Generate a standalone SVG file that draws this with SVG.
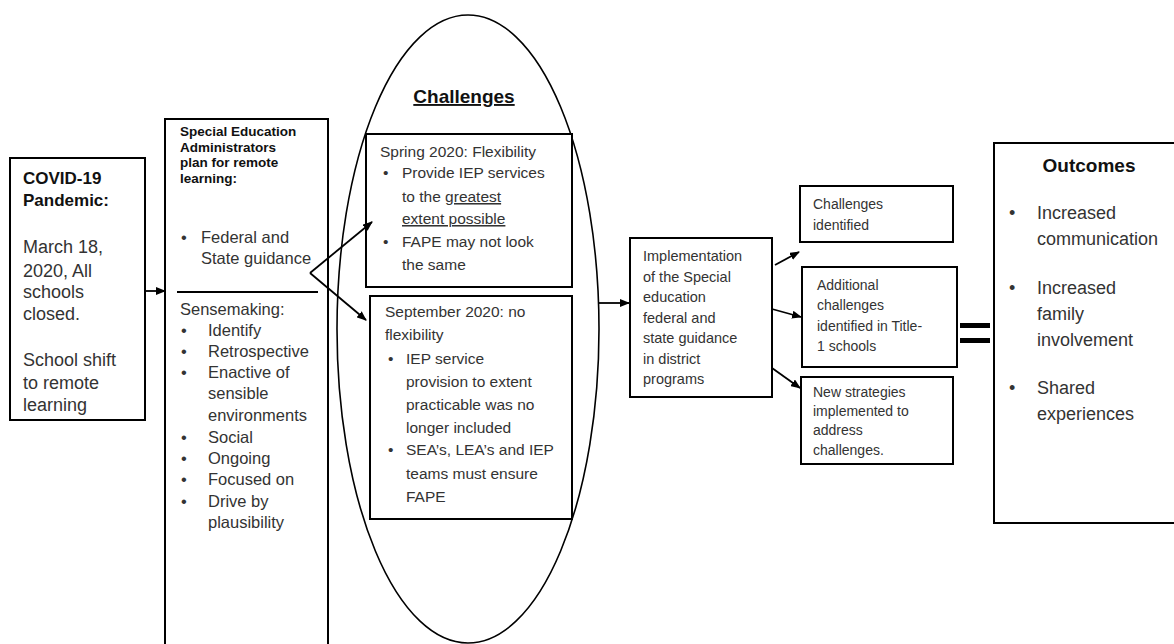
<svg xmlns="http://www.w3.org/2000/svg" width="1174" height="644" viewBox="0 0 1174 644">
<defs>
<marker id="ah" markerWidth="10" markerHeight="8" refX="9" refY="4" orient="auto" markerUnits="userSpaceOnUse">
<path d="M0,0 L10,4 L0,8 Z" fill="#000"/>
</marker>
<style>
.box{fill:#fff;stroke:#000;stroke-width:2}
.t{font-family:"Liberation Sans",Arial,sans-serif;fill:#333}
.b{font-family:"Liberation Sans",Arial,sans-serif;fill:#111;font-weight:bold}
.c{stroke:#000;stroke-width:1.8;fill:none}
</style>
</defs>
<rect width="1174" height="644" fill="#fff"/>

<g id="challenges">
<ellipse cx="468" cy="329" rx="131" ry="314" fill="none" stroke="#000" stroke-width="1.6"/>
<text class="b" x="464" y="103" font-size="19" text-anchor="middle" text-decoration="underline">Challenges</text>
</g>

<g id="covid">
<rect class="box" x="10" y="158" width="135" height="262"/>
<text class="b" font-size="17" x="23" y="184">COVID-19</text>
<text class="b" font-size="17" x="23" y="206">Pandemic:</text>
<text class="t" font-size="18" x="23"><tspan x="23" y="253">March 18,</tspan><tspan x="23" y="277">2020, All</tspan><tspan x="23" y="298">schools</tspan><tspan x="23" y="320">closed.</tspan><tspan x="23" y="366">School shift</tspan><tspan x="23" y="389">to remote</tspan><tspan x="23" y="411">learning</tspan></text>
</g>

<g id="admin">
<rect class="box" x="165" y="119" width="163" height="540"/>
<text class="b" font-size="13.5"><tspan x="180" y="136">Special Education</tspan><tspan x="180" y="151.5">Administrators</tspan><tspan x="180" y="167">plan for remote</tspan><tspan x="180" y="182.5">learning:</tspan></text>
<text class="t" font-size="16.5"><tspan x="181" y="243">•</tspan><tspan x="201" y="243">Federal and</tspan><tspan x="201" y="264">State guidance</tspan></text>
<line x1="177" y1="292" x2="318" y2="292" stroke="#000" stroke-width="2"/>
<text class="t" font-size="16.5"><tspan x="180" y="315">Sensemaking:</tspan>
<tspan x="181" y="336">•</tspan><tspan x="208" y="336">Identify</tspan>
<tspan x="181" y="357">•</tspan><tspan x="208" y="357">Retrospective</tspan>
<tspan x="181" y="378">•</tspan><tspan x="208" y="378">Enactive of</tspan>
<tspan x="208" y="399">sensible</tspan>
<tspan x="208" y="421">environments</tspan>
<tspan x="181" y="443">•</tspan><tspan x="208" y="443">Social</tspan>
<tspan x="181" y="464">•</tspan><tspan x="208" y="464">Ongoing</tspan>
<tspan x="181" y="485">•</tspan><tspan x="208" y="485">Focused on</tspan>
<tspan x="181" y="507">•</tspan><tspan x="208" y="507">Drive by</tspan>
<tspan x="208" y="528">plausibility</tspan></text>
</g>

<g id="spring">
<rect class="box" x="366" y="134" width="206" height="153"/>
<text class="t" font-size="15.5"><tspan x="380" y="157">Spring 2020: Flexibility</tspan>
<tspan x="383" y="178">•</tspan><tspan x="402" y="178">Provide IEP services</tspan>
<tspan x="402" y="202">to the </tspan><tspan text-decoration="underline">greatest</tspan>
<tspan x="402" y="224" text-decoration="underline">extent possible</tspan>
<tspan x="383" y="247">•</tspan><tspan x="402" y="247">FAPE may not look</tspan>
<tspan x="402" y="270">the same</tspan></text>
</g>

<g id="september">
<rect class="box" x="370" y="296" width="202" height="223"/>
<text class="t" font-size="15.5"><tspan x="385" y="317">September 2020: no</tspan>
<tspan x="385" y="340">flexibility</tspan>
<tspan x="388" y="364">•</tspan><tspan x="406" y="364">IEP service</tspan>
<tspan x="406" y="387">provision to extent</tspan>
<tspan x="406" y="410">practicable was no</tspan>
<tspan x="406" y="433">longer included</tspan>
<tspan x="388" y="455">•</tspan><tspan x="406" y="455">SEA’s, LEA’s and IEP</tspan>
<tspan x="406" y="479">teams must ensure</tspan>
<tspan x="406" y="502">FAPE</tspan></text>
</g>

<g id="implementation">
<rect class="box" x="630" y="238" width="142" height="159"/>
<text class="t" font-size="14.5"><tspan x="643" y="261">Implementation</tspan><tspan x="643" y="281.5">of the Special</tspan><tspan x="643" y="302">education</tspan><tspan x="643" y="322.5">federal and</tspan><tspan x="643" y="343">state guidance</tspan><tspan x="643" y="363.5">in district</tspan><tspan x="643" y="384">programs</tspan></text>
</g>

<g id="identified">
<rect class="box" x="800" y="186" width="153" height="56"/>
<text class="t" font-size="14"><tspan x="813" y="209">Challenges</tspan><tspan x="813" y="230">identified</tspan></text>
</g>

<g id="additional">
<rect class="box" x="802" y="267" width="155" height="100"/>
<text class="t" font-size="14"><tspan x="817" y="290">Additional</tspan><tspan x="817" y="310">challenges</tspan><tspan x="817" y="331">identified in Title-</tspan><tspan x="817" y="351">1 schools</tspan></text>
</g>

<g id="strategies">
<rect class="box" x="801" y="377" width="152" height="87"/>
<text class="t" font-size="14"><tspan x="813" y="397">New strategies</tspan><tspan x="813" y="416">implemented to</tspan><tspan x="813" y="435">address</tspan><tspan x="813" y="455">challenges.</tspan></text>
</g>

<g id="equals">
<rect x="960" y="323" width="30" height="5" fill="#000"/>
<rect x="960" y="338" width="30" height="5" fill="#000"/>
</g>

<g id="outcomes">
<rect class="box" x="994" y="143" width="200" height="380"/>
<text class="b" font-size="19" x="1089" y="172" text-anchor="middle">Outcomes</text>
<text class="t" font-size="18"><tspan x="1009" y="219">•</tspan><tspan x="1037" y="219">Increased</tspan>
<tspan x="1037" y="245">communication</tspan>
<tspan x="1009" y="294">•</tspan><tspan x="1037" y="294">Increased</tspan>
<tspan x="1037" y="320">family</tspan>
<tspan x="1037" y="346">involvement</tspan>
<tspan x="1009" y="394">•</tspan><tspan x="1037" y="394">Shared</tspan>
<tspan x="1037" y="420">experiences</tspan></text>
</g>

<g id="connectors">
<line class="c" x1="145" y1="291" x2="165" y2="291" marker-end="url(#ah)"/>
<line class="c" x1="310" y1="273" x2="372" y2="222" marker-end="url(#ah)"/>
<line class="c" x1="310" y1="273" x2="366" y2="320" marker-end="url(#ah)"/>
<line class="c" x1="599" y1="303" x2="629" y2="303" marker-end="url(#ah)"/>
<line class="c" x1="775" y1="265" x2="799" y2="252" marker-end="url(#ah)"/>
<line class="c" x1="772" y1="309" x2="801" y2="317" marker-end="url(#ah)"/>
<line class="c" x1="772" y1="368" x2="800" y2="388" marker-end="url(#ah)"/>
</g>
</svg>
